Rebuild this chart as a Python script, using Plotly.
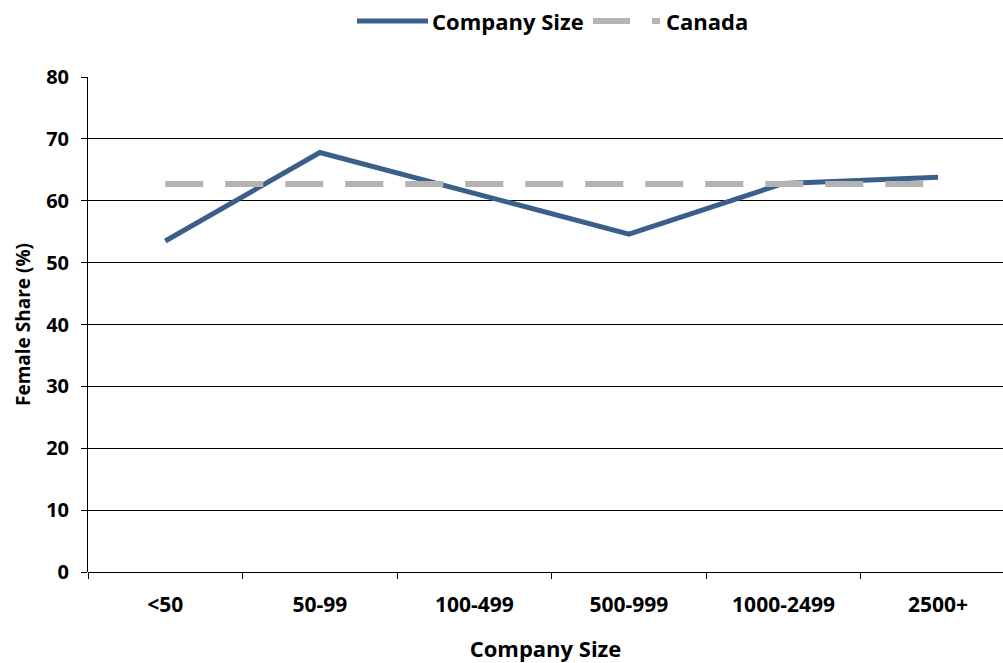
import plotly.graph_objects as go

categories = ["<50", "50-99", "100-499", "500-999", "1000-2499", "2500+"]
company_share = [53.5, 67.8, 61.2, 54.6, 62.8, 63.8]
canada_share = [62.7, 62.7, 62.7, 62.7, 62.7, 62.7]

FONT = "Open Sans"
BLUE = "#3b5f8a"
GREY = "#b3b3b3"

L, R, T, B = 88, 0, 77, 91
W, H = 1003, 663
PW, PH = W - L - R, H - T - B


def px(x):
    return (x - L) / PW


def py(y):
    return (H - B - y) / PH


fig = go.Figure()
fig.add_trace(go.Scatter(
    x=categories, y=company_share, mode="lines", name="Company Size",
    line=dict(color=BLUE, width=5), showlegend=False,
))
fig.add_trace(go.Scatter(
    x=categories, y=canada_share, mode="lines", name="Canada",
    line=dict(color=GREY, width=6, dash="38px,22px"), showlegend=False,
))

# legend drawn in the top margin
ly = py(21)
fig.add_shape(type="line", xref="paper", yref="paper",
              x0=px(357), x1=px(428), y0=ly, y1=ly,
              line=dict(color=BLUE, width=5))
fig.add_shape(type="line", xref="paper", yref="paper",
              x0=px(593), x1=px(660), y0=ly, y1=ly,
              line=dict(color=GREY, width=6, dash="37px,22px"))
fig.add_annotation(text="<b>Company Size</b>", xref="paper", yref="paper",
                   x=px(430), y=ly, xanchor="left", yanchor="middle",
                   showarrow=False, font=dict(family=FONT, size=22, color="black"))
fig.add_annotation(text="<b>Canada</b>", xref="paper", yref="paper",
                   x=px(664), y=ly, xanchor="left", yanchor="middle",
                   showarrow=False, font=dict(family=FONT, size=22, color="black"))

fig.update_layout(
    width=W, height=H,
    margin=dict(l=L, r=R, t=T, b=B),
    paper_bgcolor="white", plot_bgcolor="white",
    font=dict(family=FONT, size=18, color="black"),
    showlegend=False,
    xaxis=dict(
        type="category", range=[-0.5, 5.42],
        showgrid=False, zeroline=False, showline=False,
        ticks="outside", tickson="boundaries", ticklen=6, tickcolor="black",
        tickfont=dict(family=FONT, size=21, weight="bold"),
        ticklabelstandoff=18,
        title=dict(text="Company Size", font=dict(family=FONT, size=22, weight="bold"), standoff=24),
    ),
    yaxis=dict(
        range=[0, 80], dtick=10,
        showgrid=True, gridcolor="black", gridwidth=1,
        zeroline=True, zerolinecolor="black", zerolinewidth=1,
        showline=True, linecolor="black", linewidth=1,
        ticks="outside", ticklen=6, tickcolor="black",
        tickfont=dict(family=FONT, size=20, weight="bold"),
        ticklabelstandoff=8,
        title=dict(text="Female Share (%)", font=dict(family=FONT, size=19, weight="bold"), standoff=10),
    ),
)

fig.write_html("out.html")
